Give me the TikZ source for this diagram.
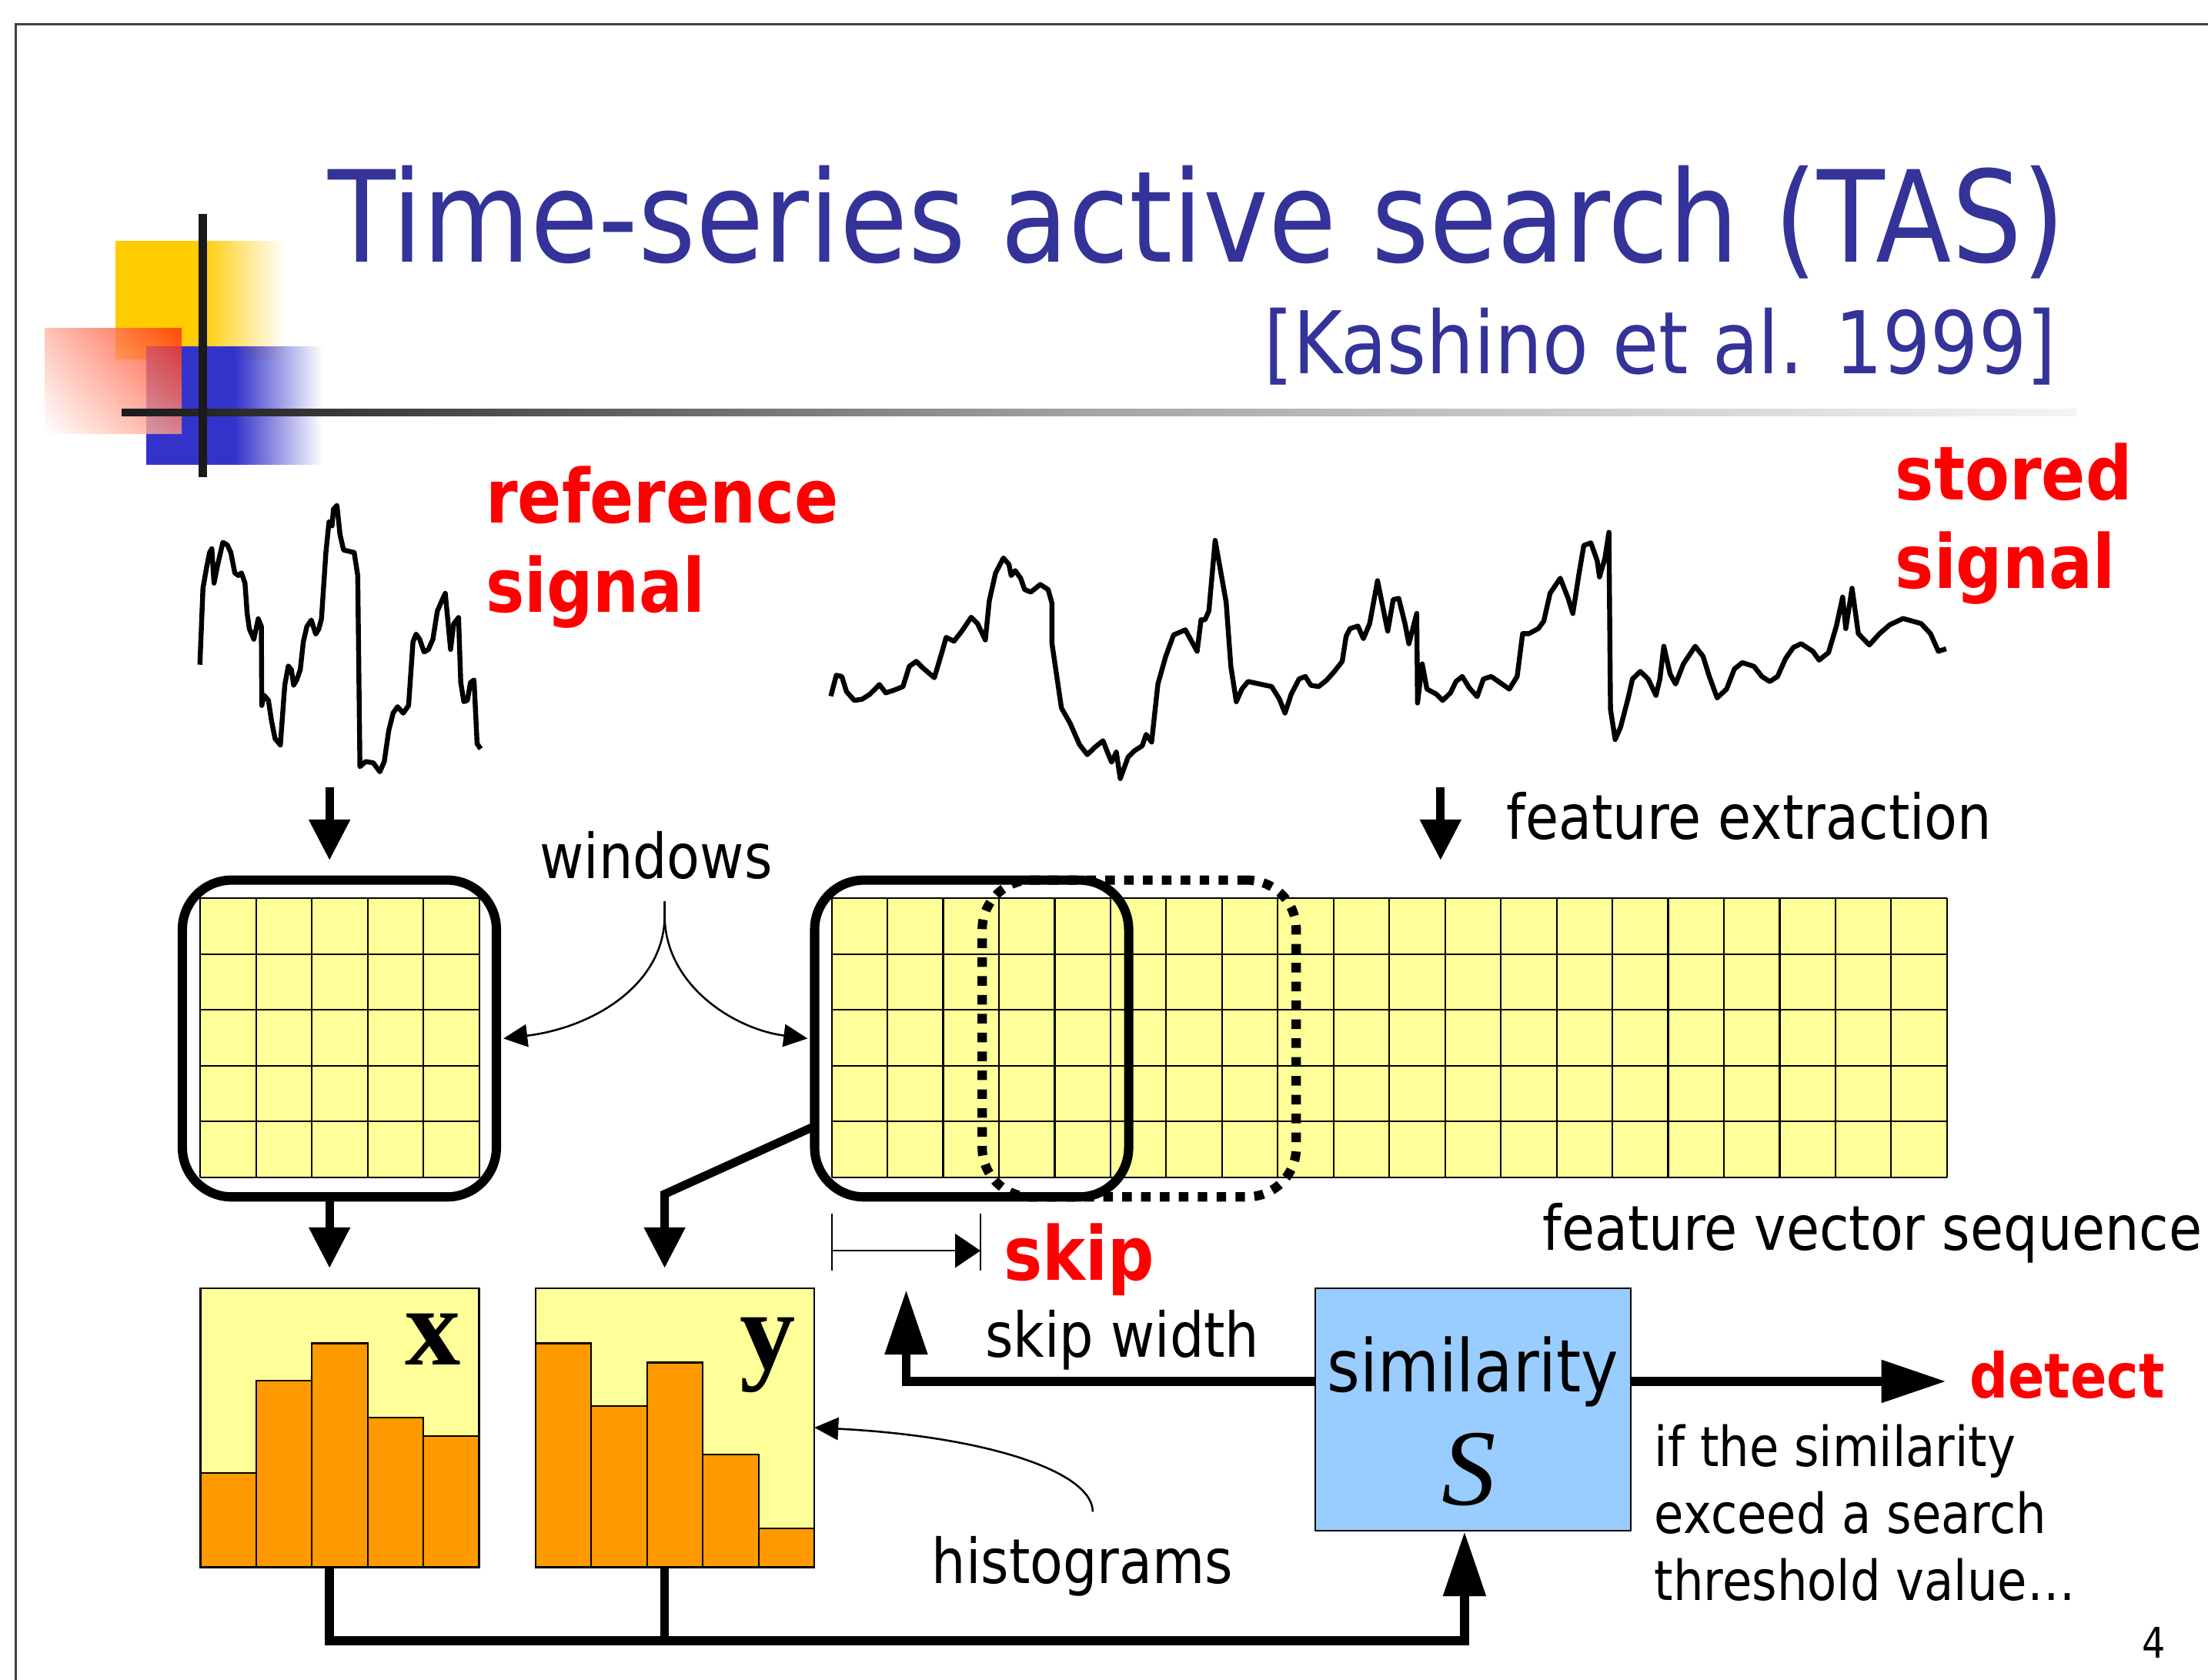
\documentclass[tikz,border=0pt]{standalone}
\usepackage{fontspec}
\usetikzlibrary{arrows.meta,fadings,shadings}
\newfontfamily\tah[FakeStretch=0.87]{DejaVu Sans}
\newfontfamily\tms{Liberation Serif}

\definecolor{titleblue}{HTML}{333399}
\definecolor{logoyellow}{HTML}{FFCC00}
\definecolor{logoblue}{HTML}{3333CC}
\definecolor{logored}{HTML}{FF2A00}
\definecolor{rulegray}{HTML}{1A1A1A}
\definecolor{cellyellow}{HTML}{FFFF99}
\definecolor{barorange}{HTML}{FF9900}
\definecolor{simblue}{HTML}{99CCFF}
\definecolor{alertred}{HTML}{FF0000}

% opaque on the left half, fading out over the right half
\tikzfading[name=solidthenfade, left color=transparent!0, right color=transparent!100, middle color=transparent!0]

\tikzset{
  txt/.style={inner sep=0pt, outer sep=0pt, anchor=base west},
  bodytxt/.style={txt, font=\tah\fontsize{22}{26}\selectfont},
  smalltxt/.style={txt, font=\tah\fontsize{19.6}{23}\selectfont},
  redbig/.style={txt, text=alertred, font=\tah\bfseries\fontsize{26.5}{30}\selectfont},
  win/.style={draw, line width=3.3pt, rounded corners=17.5pt, minimum width=111.5pt,
              minimum height=112.5pt, inner sep=0pt, outer sep=2.5pt},
  nextwin/.style={win, dash pattern=on 3.4pt off 3.3pt},
  histbox/.style={minimum width=99pt, minimum height=99pt, inner sep=0pt, outer sep=0pt},
  cell/.style={line width=0.6pt},
  bar/.style={fill=barorange, draw=black, line width=0.6pt},
  bigarrow/.style={line width=3pt, -{Triangle[length=14.5pt,width=14pt]}},
  longarrow/.style={line width=3.2pt, -{Triangle[length=23pt,width=14.5pt]}},
  thickline/.style={line width=3.2pt},
  thinarrow/.style={line width=0.7pt, -{Triangle[length=8.5pt,width=8pt]}},
  skiparrow/.style={line width=0.7pt, -{Triangle[length=9pt,width=12pt]}},
  signal/.style={line width=1.75pt, line join=round},
}

\begin{document}
\begin{tikzpicture}[x=0.5pt, y=-0.5pt]
\useasboundingbox (0,0) rectangle (1568,1193);
\fill[white] (0,0) rectangle (1568,1193);

% slide frame
\draw[black!75, line width=0.8pt] (11,1193) -- (11,17) -- (1568,17);

% logo squares
\fill[logoyellow, path fading=solidthenfade, fit fading=true] (82.2,170.9) rectangle (202,255.1);
\fill[logoblue, path fading=solidthenfade, fit fading=true] (103.6,245.8) rectangle (228.7,330.3);
\shade[upper right=logored, upper left=logored!35!white, lower right=logored!50!white,
       lower left=white, opacity=0.8] (32.1,233) rectangle (129,308.2);
% logo cross lines and title rule
\shade[left color=rulegray, right color=white!96!black, middle color=black!35]
  (86.4,290.5) rectangle (1475,295.5);
\fill[rulegray] (141.2,151.9) rectangle (147.2,338.6);

% title
\node[txt, text=titleblue, font=\tah\fontsize{45.1}{50}\selectfont] (title) at (233,186)
  {Time-series active search (TAS)};
\node[txt, anchor=base east, text=titleblue, font=\tah\fontsize{30.7}{34}\selectfont] (cite) at (1460,265.6)
  {[Kashino et al. 1999]};

% signal labels
\node[redbig] (reflbl1) at (345,371.6) {reference};
\node[redbig] (reflbl2) at (345,434.5) {signal};
\node[redbig] (stlbl1) at (1346,355) {stored};
\node[redbig] (stlbl2) at (1346,418) {signal};

% reference signal
\begin{scope}[shift={(109.6,338.1)}, xscale=0.314, yscale=0.181]
\draw[signal] (103,740) -- (110,440) -- (118,360) -- (125,300) -- (130,285) -- (135,420) -- (143,350)
 -- (155,260) -- (165,270) -- (173,300) -- (182,380) -- (190,390) -- (197,380) -- (205,420) -- (210,540)
 -- (215,600) -- (225,640) -- (235,560) -- (242,590) -- (243,900) -- (248,860) -- (258,880) -- (265,960)
 -- (273,1030) -- (285,1055) -- (295,820) -- (303,745) -- (310,760) -- (315,820) -- (322,800) -- (330,760)
 -- (337,650) -- (345,590) -- (355,565) -- (365,620) -- (372,600) -- (378,560) -- (388,300) -- (395,180)
 -- (402,195) -- (405,130) -- (413,115) -- (420,230) -- (428,290) -- (440,295) -- (452,300) -- (460,390)
 -- (465,1140) -- (478,1120) -- (495,1125) -- (510,1160) -- (520,1120) -- (530,1000) -- (540,930)
 -- (550,905) -- (563,930) -- (575,900) -- (585,650) -- (592,620) -- (600,640) -- (610,690) -- (620,680)
 -- (630,640) -- (640,530) -- (650,490) -- (658,460) -- (670,680) -- (677,580) -- (688,555) -- (693,810)
 -- (700,885) -- (708,880) -- (715,810) -- (723,800) -- (730,1050) -- (738,1070);
\end{scope}

% stored signal
\begin{scope}[shift={(574.4,356.9)}, xscale=0.557, yscale=0.179]
\draw[signal] (28,768) -- (35,685) -- (42,690) -- (48,750) -- (58,785) -- (68,780) -- (78,760) -- (90,722)
 -- (98,755) -- (108,745) -- (120,730) -- (128,650) -- (137,630) -- (145,655) -- (160,695) -- (170,590)
 -- (175,535) -- (185,550) -- (195,510) -- (207,455) -- (215,480) -- (225,545) -- (230,390) -- (238,280)
 -- (248,220) -- (255,245) -- (258,290) -- (263,270) -- (270,300) -- (275,345) -- (283,355) -- (295,325)
 -- (305,345) -- (310,400) -- (310,560) -- (322,815) -- (333,875) -- (345,960) -- (355,1000) -- (365,970)
 -- (375,945) -- (380,985) -- (386,1030) -- (392,990) -- (397,1095) -- (407,1010) -- (415,985) -- (425,965)
 -- (430,920) -- (437,950) -- (445,720) -- (455,610) -- (465,525) -- (480,505) -- (495,590) -- (500,465)
 -- (505,465) -- (510,430) -- (518,150) -- (532,395) -- (538,650) -- (545,790) -- (552,740) -- (560,710)
 -- (590,730) -- (600,780) -- (607,835) -- (615,760) -- (625,700) -- (633,690) -- (640,725) -- (650,730)
 -- (660,705) -- (670,670) -- (680,630) -- (685,530) -- (690,500) -- (700,490) -- (707,540) -- (715,480)
 -- (725,310) -- (738,510) -- (745,385) -- (752,380) -- (760,480) -- (765,560) -- (775,440) -- (776,795)
 -- (782,640) -- (788,740) -- (800,760) -- (808,785) -- (818,755) -- (825,710) -- (833,690) -- (842,735)
 -- (852,770) -- (860,700) -- (870,690) -- (893,740) -- (903,690) -- (910,520) -- (918,520) -- (930,500)
 -- (937,470) -- (945,360) -- (958,300) -- (968,380) -- (974,440) -- (982,280) -- (988,170) -- (997,160)
 -- (1005,230) -- (1008,295) -- (1015,220) -- (1020,118) -- (1022,820) -- (1028,940) -- (1035,890)
 -- (1045,770) -- (1050,700) -- (1060,670) -- (1070,700) -- (1080,765) -- (1085,700) -- (1090,570)
 -- (1098,680) -- (1105,720) -- (1115,640) -- (1130,570) -- (1140,610) -- (1148,690) -- (1158,775)
 -- (1170,740) -- (1180,660) -- (1190,635) -- (1205,650) -- (1215,690) -- (1225,710) -- (1235,690)
 -- (1245,620) -- (1255,575) -- (1265,560) -- (1280,590) -- (1288,625) -- (1300,595) -- (1310,490)
 -- (1318,375) -- (1322,500) -- (1330,340) -- (1338,520) -- (1352,565) -- (1365,520) -- (1378,485)
 -- (1395,460) -- (1418,480) -- (1430,520) -- (1440,590) -- (1450,580);
\end{scope}

% feature extraction
\coordinate (refdown) at (234,559);
\coordinate (refin) at (234,611);
\coordinate (stdown) at (1023,559);
\coordinate (stin) at (1023,611);
\draw[bigarrow] (refdown) -- (refin);
\draw[bigarrow] (stdown) -- (stin);
\node[bodytxt] (featlbl) at (1070,596) {feature extraction};

% feature grids
\fill[cellyellow] (142.3,638) rectangle (340.3,836);
\foreach \i in {0,...,5} \draw[cell] ({142.3+39.6*\i},638) -- ({142.3+39.6*\i},836);
\foreach \j in {0,...,5} \draw[cell] (142.3,{638+39.6*\j}) -- (340.3,{638+39.6*\j});
\fill[cellyellow] (590.6,638) rectangle (1382.6,836);
\foreach \i in {0,...,20} \draw[cell] ({590.6+39.6*\i},638) -- ({590.6+39.6*\i},836);
\foreach \j in {0,...,5} \draw[cell] (590.6,{638+39.6*\j}) -- (1382.6,{638+39.6*\j});

% analysis windows
\node[nextwin] (nextwin) at (809,737.5) {};
\node[win] (refwin) at (241,737.5) {};
\node[win] (curwin) at (690,737.5) {};

\node[bodytxt] (winlbl) at (383.3,623.7) {windows};
\coordinate (wfork) at (472,640);
\coordinate (wbend) at (472,650);
\draw[thinarrow] (wfork) -- (wbend) .. controls (472,700) and (420,730) .. (refwin.east);
\draw[thinarrow] (wfork) -- (wbend) .. controls (472,700) and (522,731) .. (curwin.west);

\node[bodytxt] (seqlbl) at (1095.5,888) {feature vector sequence};

% skip
\coordinate (skipa) at (590.9,888.2);
\coordinate (skipb) at (696.3,888.2);
\draw[line width=0.7pt] (590.9,862) -- (590.9,902.5) (696.3,862) -- (696.3,902.5);
\draw[skiparrow] (skipa) -- (skipb);
\node[redbig] (skiplbl) at (713,909.2) {skip};

% histograms
\node[histbox, fill=cellyellow] (histx) at (241.3,1014) {};
\node[histbox, fill=cellyellow] (histy) at (479.3,1014) {};
\foreach \h [count=\k from 0] in {1046.1,980.3,954,1006.7,1019.8}
  \draw[bar] ({142.3+39.6*\k},1113) rectangle ({142.3+39.6*(\k+1)},\h);
\foreach \h [count=\k from 0] in {954,998.5,967.6,1033,1085.6}
  \draw[bar] ({380.3+39.6*\k},1113) rectangle ({380.3+39.6*(\k+1)},\h);
\draw[line width=0.7pt] (histx.north west) rectangle (histx.south east);
\draw[line width=0.7pt] (histy.north west) rectangle (histy.south east);
\node[txt, anchor=base east, font=\tms\bfseries\fontsize{39.5}{42}\selectfont] (xlbl) at (327,969) {x};
\node[txt, anchor=base east, font=\tms\bfseries\fontsize{39.5}{42}\selectfont] (ylbl) at (565,972) {y};

\coordinate (refout) at (234,851);
\coordinate (xin) at (234,900.6);
\draw[bigarrow] (refout) -- (xin);
\coordinate (diagstart) at (578,800);
\coordinate (diagbend) at (472,848);
\coordinate (yin) at (472,900.6);
\draw[bigarrow] (diagstart) -- (diagbend) -- (yin);

\node[bodytxt] (histlbl) at (661.7,1124.3) {histograms};
\coordinate (histcurve) at (776,1073.6);
\draw[thinarrow] (histcurve) .. controls (776,1045) and (700,1020) .. (histy.east |- 0,1013.8);

% similarity
\node[draw, line width=0.7pt, fill=simblue, minimum width=112pt, minimum height=86pt,
      inner sep=0pt, outer sep=0pt] (simbox) at (1046,1001) {};
\node[txt, anchor=base, font=\tah\fontsize{25.8}{30}\selectfont] (simlbl) at (1046,988.4) {similarity};
\node[txt, anchor=base, font=\tms\itshape\fontsize{38.5}{40}\selectfont] (slbl) at (1043,1069) {S};

\coordinate (xbus) at (234,1113);
\coordinate (ybus) at (472,1113);
\coordinate (busy) at (0,1165);
\coordinate (simin) at (1040,1087.6);
\draw[thickline] (ybus) -- (ybus |- busy);
\draw[longarrow] (xbus) -- (xbus |- busy) -- (simin |- busy) -- (simin);

\coordinate (simwest) at (934,981);
\coordinate (skipup) at (643.5,981);
\coordinate (skiptip) at (643.5,916);
\draw[longarrow] (simwest) -- (skipup) -- (skiptip);
\node[bodytxt] (skipwlbl) at (699.6,963.7) {skip width};

\coordinate (simeast) at (1158,981);
\coordinate (detecttip) at (1382,981);
\draw[longarrow] (simeast) -- (detecttip);
\node[txt, text=alertred, font=\tah\bfseries\fontsize{22}{26}\selectfont] (detectlbl) at (1398.6,992.8) {detect};

\node[smalltxt] (cond1) at (1175,1041.4) {if the similarity};
\node[smalltxt] (cond2) at (1175,1088.8) {exceed a search};
\node[smalltxt] (cond3) at (1175,1136.3) {threshold value…};

\node[txt, font=\tah\fontsize{15}{18}\selectfont] (pageno) at (1521,1177.6) {4};
\end{tikzpicture}
\end{document}
